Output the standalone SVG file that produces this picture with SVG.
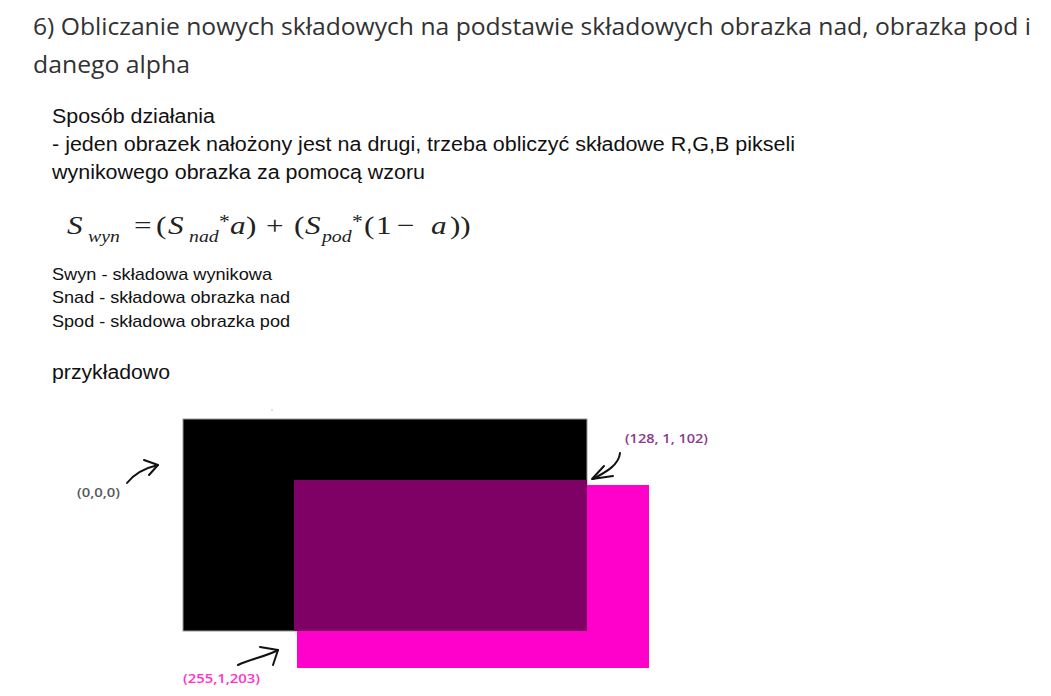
<svg xmlns="http://www.w3.org/2000/svg" width="1051" height="696" viewBox="0 0 1051 696">
<style>
.title{font-family:"Open Sans","Noto Sans",sans-serif;font-size:23px;fill:#323232}
.body{font-family:"Liberation Sans",Arial,sans-serif;font-size:20px;fill:#111}
.leg{font-family:"Liberation Sans",Arial,sans-serif;font-size:17px;fill:#111}
.mf{font-family:"Liberation Serif","Times New Roman",serif;font-size:26px;fill:#222}
.i{font-style:italic}
.sub{font-style:italic;font-size:16.5px}
.sup{font-size:18px}
.lbl{font-family:"Open Sans","Noto Sans",sans-serif;font-size:13px;font-weight:600}
.pen{fill:none;stroke:#111;stroke-width:2;stroke-linecap:round;stroke-linejoin:round}
</style>
<rect width="1051" height="696" fill="#fff"/>
<g id="title">
<text class="title" x="33" y="35" textLength="998" lengthAdjust="spacingAndGlyphs">6) Obliczanie nowych składowych na podstawie składowych obrazka nad, obrazka pod i</text>
<text class="title" x="33" y="73" textLength="157" lengthAdjust="spacingAndGlyphs">danego alpha</text>
</g>
<g id="description">
<text class="body" x="52" y="123" textLength="163" lengthAdjust="spacingAndGlyphs">Sposób działania</text>
<text class="body" x="52" y="151" textLength="743" lengthAdjust="spacingAndGlyphs">- jeden obrazek nałożony jest na drugi, trzeba obliczyć składowe R,G,B pikseli</text>
<text class="body" x="52" y="179" textLength="373" lengthAdjust="spacingAndGlyphs">wynikowego obrazka za pomocą wzoru</text>
</g>
<g id="formula" transform="matrix(1.2,0,0,1,0,0)">
<text class="mf"><tspan class="i" x="55.8" y="234">S</tspan><tspan class="sub" x="73.3" y="242">wyn</tspan><tspan x="111.7" y="234">=</tspan><tspan x="130" y="234">(</tspan><tspan class="i" x="140" y="234">S</tspan><tspan class="sub" x="157.5" y="242">nad</tspan><tspan class="sup" x="182.5" y="228">*</tspan><tspan class="i" x="191.7" y="234">a</tspan><tspan x="205" y="234">)</tspan><tspan x="221.7" y="234">+</tspan><tspan x="245" y="234">(</tspan><tspan class="i" x="254.2" y="234">S</tspan><tspan class="sub" x="268.3" y="242">pod</tspan><tspan class="sup" x="293.3" y="228">*</tspan><tspan x="303.3" y="234">(</tspan><tspan x="313.3" y="234">1</tspan><tspan x="330.8" y="234">−</tspan><tspan class="i" x="359.2" y="234">a</tspan><tspan x="375" y="234">))</tspan></text>
</g>
<g id="legend">
<text class="leg" x="52" y="280" textLength="220" lengthAdjust="spacingAndGlyphs">Swyn - składowa wynikowa</text>
<text class="leg" x="52" y="303" textLength="238" lengthAdjust="spacingAndGlyphs">Snad - składowa obrazka nad</text>
<text class="leg" x="52" y="327" textLength="238" lengthAdjust="spacingAndGlyphs">Spod - składowa obrazka pod</text>
</g>
<text class="body" x="52" y="379" textLength="118" lengthAdjust="spacingAndGlyphs">przykładowo</text>
<g id="example">
<circle cx="272" cy="410" r="0.8" fill="#d8a0d8"/>
<g id="image-nad"><rect x="183" y="419" width="404" height="212" fill="#000" stroke="#999" stroke-width="1"/></g>
<g id="image-pod"><rect x="297" y="485" width="352" height="183" fill="#ff01cb"/></g>
<g id="overlap"><rect x="294" y="480" width="293" height="151" fill="#800166"/></g>
</g>
<g id="connectors">
<path class="pen" d="M127,483 C134,474 145,468 158,465"/>
<path class="pen" d="M144,460 L158,465 L149,475"/>
<path class="pen" d="M620,453 C619,465 606,472 593,479"/>
<path class="pen" d="M604,466 L592,479 L613,476"/>
<path class="pen" d="M238,665 C250,659 265,657 278,650"/>
<path class="pen" d="M260,647 L278,650 L273,665"/>
</g>
<g id="labels">
<text class="lbl" x="77" y="497" fill="#595959" textLength="43" lengthAdjust="spacingAndGlyphs">(0,0,0)</text>
<text class="lbl" x="625" y="443" fill="#8b3a8b" textLength="83" lengthAdjust="spacingAndGlyphs">(128, 1, 102)</text>
<text class="lbl" x="183" y="683" fill="#ff33cc" textLength="77" lengthAdjust="spacingAndGlyphs">(255,1,203)</text>
</g>
</svg>
